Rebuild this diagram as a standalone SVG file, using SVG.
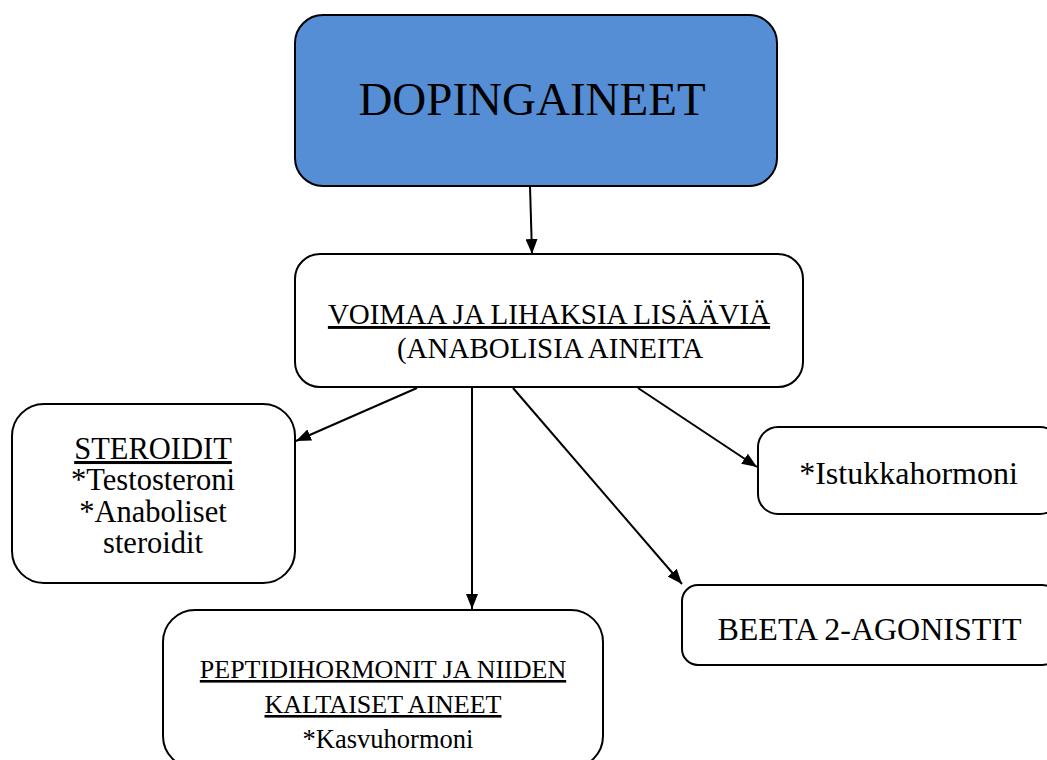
<svg xmlns="http://www.w3.org/2000/svg" width="1047" height="760" viewBox="0 0 1047 760">
<style>
  .box { fill: #ffffff; stroke: #000000; stroke-width: 2; }
  .root { fill: #558ED5; stroke: #000000; stroke-width: 2; }
  .t { font-family: "Liberation Serif", "Times New Roman", serif; fill: #000000; text-anchor: middle; }
  .u { text-decoration: underline; }
  .edge { stroke: #000000; stroke-width: 2; fill: none; marker-end: url(#arrow); }
</style>
<defs>
  <marker id="arrow" markerUnits="userSpaceOnUse" markerWidth="16" markerHeight="12" refX="15" refY="6" orient="auto">
    <path d="M0,0 L15,6 L0,12 z" fill="#000000"/>
  </marker>
</defs>
<rect x="0" y="0" width="1047" height="760" fill="#ffffff"/>
<g id="connectors">
  <line class="edge" x1="530" y1="186" x2="532" y2="254"/>
  <line class="edge" x1="417" y1="388" x2="296" y2="441"/>
  <line class="edge" x1="472" y1="388" x2="472" y2="609"/>
  <line class="edge" x1="513" y1="388" x2="682" y2="584"/>
  <line class="edge" x1="638" y1="388" x2="757" y2="467"/>
</g>
<g id="node-dopingaineet">
  <rect class="root" x="295" y="15" width="482" height="171" rx="28" ry="28"/>
  <text class="t" x="532" y="115" font-size="47">DOPINGAINEET</text>
</g>
<g id="node-voimaa">
  <rect class="box" x="295" y="254" width="508" height="133" rx="25" ry="25"/>
  <text class="t u" x="549" y="324" font-size="29">VOIMAA JA LIHAKSIA LISÄÄVIÄ</text>
  <text class="t" x="550" y="358" font-size="29">(ANABOLISIA AINEITA</text>
</g>
<g id="node-steroidit">
  <rect class="box" x="12" y="404" width="283" height="179" rx="32" ry="32"/>
  <text class="t u" x="153" y="459" font-size="30.5">STEROIDIT</text>
  <text class="t" x="153" y="490" font-size="30.5">*Testosteroni</text>
  <text class="t" x="153" y="522" font-size="30.5">*Anaboliset</text>
  <text class="t" x="153" y="553" font-size="30.5">steroidit</text>
</g>
<g id="node-peptidi">
  <rect class="box" x="163" y="610" width="440" height="158" rx="32" ry="32"/>
  <text class="t u" x="383" y="678" font-size="26">PEPTIDIHORMONIT JA NIIDEN</text>
  <text class="t u" x="383" y="713" font-size="26">KALTAISET AINEET</text>
  <text class="t" x="388" y="748" font-size="26.5">*Kasvuhormoni</text>
</g>
<g id="node-istukka">
  <rect class="box" x="758" y="427" width="302" height="87" rx="20" ry="20"/>
  <text class="t" x="908.5" y="484" font-size="32">*Istukkahormoni</text>
</g>
<g id="node-beeta">
  <rect class="box" x="682" y="585" width="376" height="80" rx="16" ry="16"/>
  <text class="t" x="869.5" y="640" font-size="32">BEETA 2-AGONISTIT</text>
</g>
</svg>
